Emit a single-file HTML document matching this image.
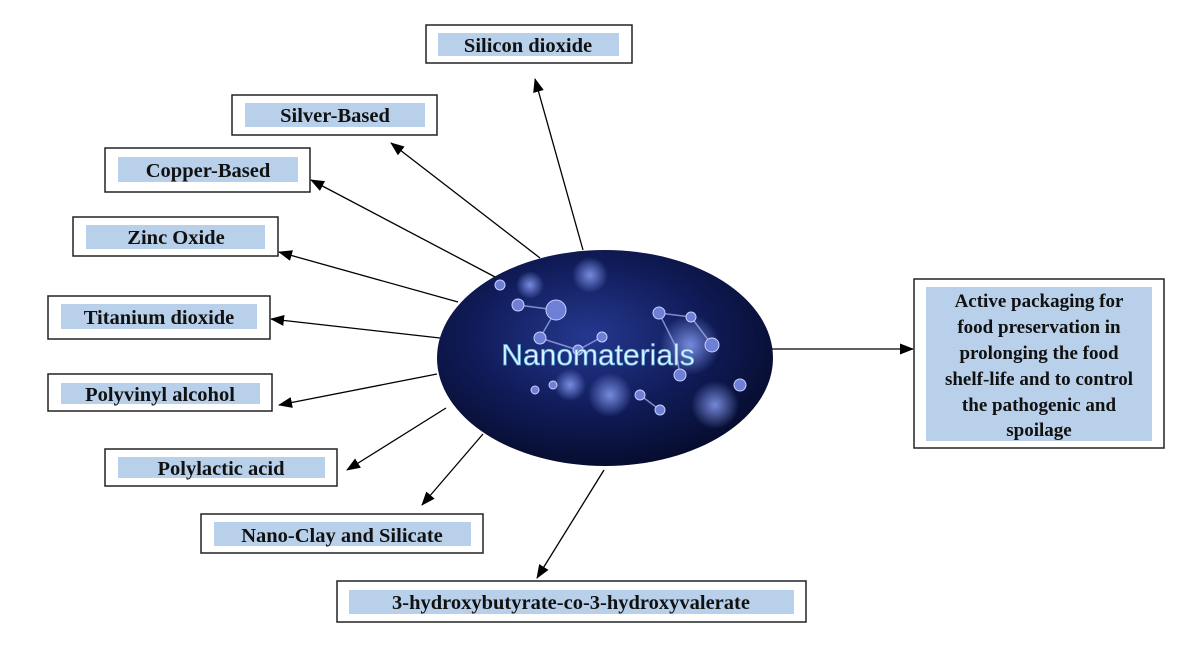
<!DOCTYPE html>
<html><head><meta charset="utf-8"><style>
html,body{margin:0;padding:0;background:#fff;}
svg{display:block}
text{font-family:"Liberation Serif",serif;font-weight:bold;fill:#111;}
</style></head><body>
<svg width="1200" height="654" viewBox="0 0 1200 654" xmlns="http://www.w3.org/2000/svg">
<defs>
<marker id="ah" markerWidth="14" markerHeight="11" refX="13" refY="5.5" orient="auto" markerUnits="userSpaceOnUse">
<path d="M0,0 L14,5.5 L0,11 z" fill="#000"/>
</marker>
<radialGradient id="eg" cx="0.45" cy="0.4" r="0.65">
<stop offset="0" stop-color="#25388f"/>
<stop offset="0.5" stop-color="#111d5c"/>
<stop offset="1" stop-color="#050a28"/>
</radialGradient>
<radialGradient id="glow" cx="0.5" cy="0.5" r="0.5">
<stop offset="0" stop-color="#8fa6ff" stop-opacity="0.8"/>
<stop offset="1" stop-color="#8fa6ff" stop-opacity="0"/>
</radialGradient>
<clipPath id="ec"><ellipse cx="605" cy="358" rx="168" ry="108"/></clipPath>
</defs>

<g stroke="#000" stroke-width="1.3" fill="none" marker-end="url(#ah)">
<line x1="583" y1="250" x2="535" y2="79"/>
<line x1="540" y1="258" x2="391" y2="143"/>
<line x1="497" y1="278" x2="311" y2="180"/>
<line x1="458" y1="302" x2="279" y2="252"/>
<line x1="440" y1="338" x2="271" y2="319"/>
<line x1="437" y1="374" x2="279" y2="405"/>
<line x1="446" y1="408" x2="347" y2="470"/>
<line x1="483" y1="434" x2="422" y2="505"/>
<line x1="604" y1="470" x2="537" y2="578"/>
<line x1="772" y1="349" x2="913" y2="349"/>
</g>

<ellipse cx="605" cy="358" rx="168" ry="108" fill="url(#eg)"/>
<g clip-path="url(#ec)">
<circle cx="590" cy="275" r="18" fill="url(#glow)"/>
<circle cx="530" cy="285" r="14" fill="url(#glow)"/>
<circle cx="690" cy="345" r="30" fill="url(#glow)"/>
<circle cx="610" cy="395" r="22" fill="url(#glow)"/>
<circle cx="715" cy="405" r="24" fill="url(#glow)"/>
<circle cx="570" cy="385" r="16" fill="url(#glow)"/>
<g stroke="#9aa8e8" stroke-width="1.5" opacity="0.8">
<line x1="518" y1="305" x2="556" y2="310"/><line x1="556" y1="310" x2="540" y2="338"/>
<line x1="540" y1="338" x2="578" y2="350"/><line x1="578" y1="350" x2="602" y2="337"/>
<line x1="659" y1="313" x2="691" y2="317"/><line x1="691" y1="317" x2="712" y2="345"/>
<line x1="659" y1="313" x2="675" y2="345"/><line x1="675" y1="345" x2="680" y2="375"/>
<line x1="640" y1="395" x2="660" y2="410"/>
</g>
<g fill="#6f7fd6" stroke="#c8d0ff" stroke-width="1">
<circle cx="500" cy="285" r="5"/><circle cx="518" cy="305" r="6"/><circle cx="556" cy="310" r="10"/>
<circle cx="540" cy="338" r="6"/><circle cx="578" cy="350" r="5"/><circle cx="602" cy="337" r="5"/>
<circle cx="659" cy="313" r="6"/><circle cx="691" cy="317" r="5"/><circle cx="712" cy="345" r="7"/>
<circle cx="680" cy="375" r="6"/><circle cx="640" cy="395" r="5"/><circle cx="660" cy="410" r="5"/>
<circle cx="740" cy="385" r="6"/><circle cx="535" cy="390" r="4"/><circle cx="553" cy="385" r="4"/>
</g>
</g>
<text x="598" y="365" text-anchor="middle" style="font-family:'Liberation Sans',sans-serif;font-weight:normal;font-size:30px;fill:#d8f4ff;stroke:#5fb0e0;stroke-width:0.7">Nanomaterials</text>

<g stroke="#222" stroke-width="1.5" fill="#fff">
<rect x="426" y="25" width="206" height="38"/>
<rect x="232" y="95" width="205" height="40"/>
<rect x="105" y="148" width="205" height="44"/>
<rect x="73" y="217" width="205" height="39"/>
<rect x="48" y="296" width="222" height="43"/>
<rect x="48" y="374" width="224" height="37"/>
<rect x="105" y="449" width="232" height="37"/>
<rect x="201" y="514" width="282" height="39"/>
<rect x="337" y="581" width="469" height="41"/>
<rect x="914" y="279" width="250" height="169"/>
</g>
<g fill="#b8d0ea">
<rect x="438" y="33" width="181" height="23"/>
<rect x="245" y="103" width="180" height="24"/>
<rect x="118" y="157" width="180" height="25"/>
<rect x="86" y="225" width="179" height="24"/>
<rect x="61" y="304" width="196" height="25"/>
<rect x="61" y="383" width="199" height="21"/>
<rect x="118" y="457" width="207" height="21"/>
<rect x="214" y="522" width="257" height="24"/>
<rect x="349" y="590" width="445" height="24"/>
<rect x="926" y="287" width="226" height="154"/>
</g>

<g font-size="20.5" text-anchor="middle">
<text x="528" y="52">Silicon dioxide</text>
<text x="335" y="122">Silver-Based</text>
<text x="208" y="177">Copper-Based</text>
<text x="176" y="244">Zinc Oxide</text>
<text x="159" y="324">Titanium dioxide</text>
<text x="160" y="401">Polyvinyl alcohol</text>
<text x="221" y="475">Polylactic acid</text>
<text x="342" y="542">Nano-Clay and Silicate</text>
<text x="571" y="609">3-hydroxybutyrate-co-3-hydroxyvalerate</text>
</g>
<g font-size="19" text-anchor="middle">
<text x="1039" y="307">Active packaging for</text>
<text x="1039" y="333">food preservation in</text>
<text x="1039" y="359">prolonging the food</text>
<text x="1039" y="385">shelf-life and to control</text>
<text x="1039" y="411">the pathogenic and</text>
<text x="1039" y="436">spoilage</text>
</g>
</svg>
</body></html>
